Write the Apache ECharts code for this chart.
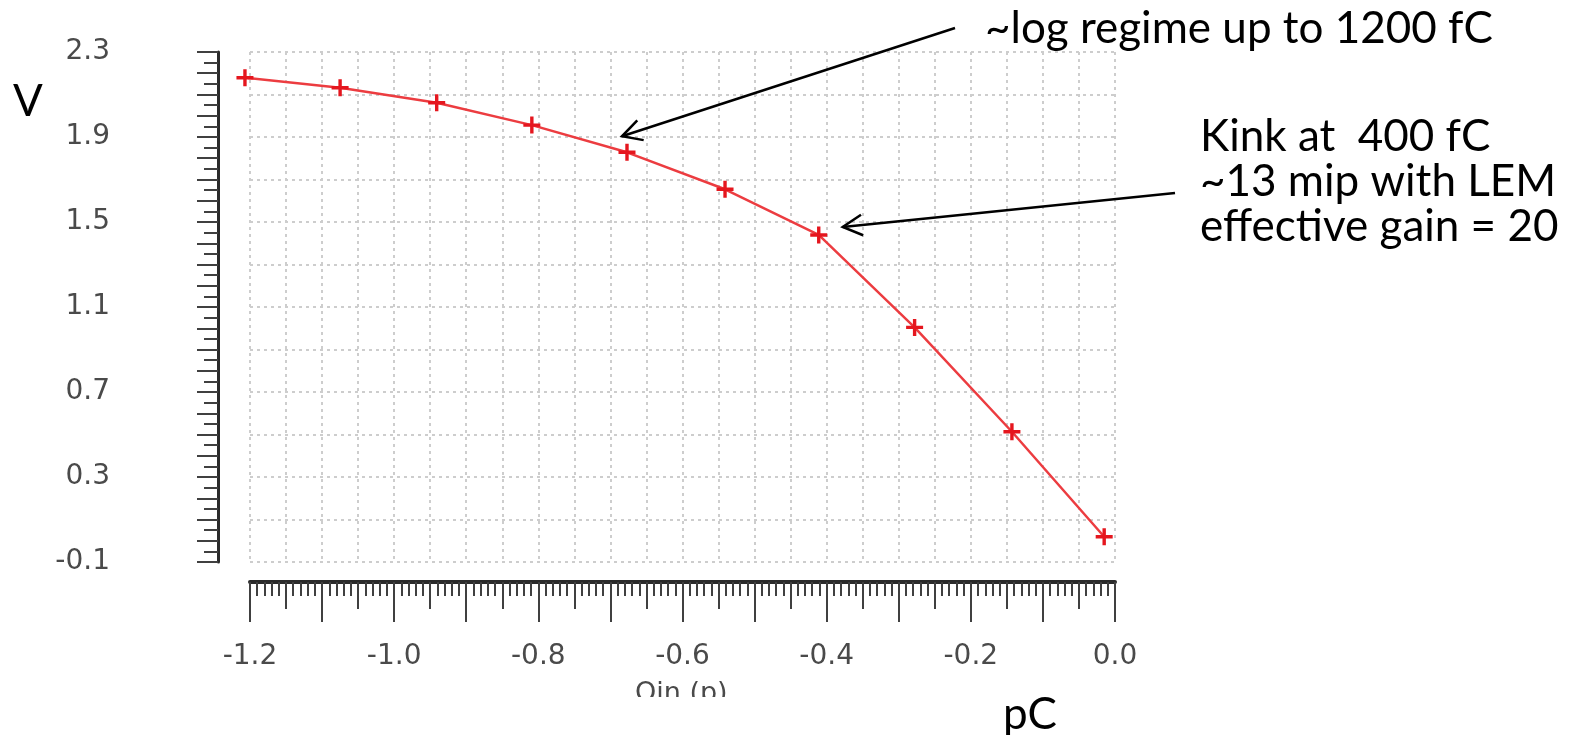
<!DOCTYPE html>
<html>
<head>
<meta charset="utf-8">
<script src="https://cdn.jsdelivr.net/npm/echarts@6/dist/echarts.min.js"></script>
<style>
  html, body { margin: 0; padding: 0; background: #ffffff; }
  #chart { width: 1570px; height: 735px; }
</style>
</head>
<body>
<div id="chart"></div>
<script>
// Input charge (pC) and output voltage (V) of the simulated front end
const qin  = [-1.207, -1.075, -0.941, -0.809, -0.677, -0.541, -0.411, -0.278, -0.143, -0.015];
const vout = [ 2.179,  2.132,  2.061,  1.956,  1.828,  1.654,  1.439,  1.004,  0.513,  0.019];

// Tick labels shown on the axes
const xTickLabels = ['-1.2', '-1.0', '-0.8', '-0.6', '-0.4', '-0.2', '0.0'];
const yTickLabels = ['-0.1', '0.3', '0.7', '1.1', '1.5', '1.9', '2.3'];

// Axis titles and notes
const xAxisTitle = 'Qin (p)';
const xUnit = 'pC';
const yUnit = 'V';
const noteLog = '~log regime up to 1200 fC';
const noteKink = ['Kink at  400 fC', '~13 mip with LEM', 'effective gain = 20'];

const chart = echarts.init(document.getElementById('chart'), null, { renderer: 'canvas' });

const fmt = v => (Math.abs(v) < 1e-9 ? 0 : v).toFixed(1);
const tickFont = { fontFamily: 'DejaVu Sans', fontSize: 28, color: '#4a4a4a' };
const noteFont = 'Lato';
const gridLine = { show: true, lineStyle: { color: '#cdcdcd', type: [3, 4], width: 2 } };
const tickLine = { color: '#404040', width: 2 };

// Plus-shaped marker
const plusPath = 'path://M4,0 H6 V4 H10 V6 H6 V10 H4 V6 H0 V4 H4 Z';

chart.setOption({
  animation: false,
  backgroundColor: '#ffffff',
  grid: { left: 250, right: 455, top: 52, bottom: 173 },
  xAxis: [
    {
      type: 'value', min: -1.2, max: 0, interval: 0.1, position: 'bottom', offset: 20,
      axisLine: { show: true, onZero: false, lineStyle: { color: '#2b2b2b', width: 4 } },
      axisTick: { show: true, length: 40, lineStyle: tickLine },
      minorTick: { show: true, splitNumber: 10, length: 14, lineStyle: { color: '#404040', width: 2 } },
      axisLabel: Object.assign({ margin: 61, formatter: v => xTickLabels.includes(fmt(v)) ? fmt(v) : '' }, tickFont),
      splitLine: { show: false }
    },
    {
      type: 'value', min: -1.2, max: 0, interval: 0.05, position: 'bottom', offset: 20,
      axisLine: { show: false, onZero: false },
      axisTick: { show: true, length: 27, lineStyle: tickLine },
      axisLabel: { show: false },
      splitLine: gridLine
    }
  ],
  yAxis: [
    {
      type: 'value', min: -0.1, max: 2.3, interval: 0.2, position: 'left', offset: 32,
      axisLine: { show: true, onZero: false, lineStyle: { color: '#2b2b2b', width: 3 } },
      axisTick: { show: false },
      axisLabel: Object.assign({ margin: 108, formatter: v => yTickLabels.includes(fmt(v)) ? fmt(v) : '' }, tickFont),
      splitLine: gridLine
    },
    {
      type: 'value', min: -0.1, max: 2.3, interval: 0.1, position: 'left', offset: 32,
      axisLine: { show: false, onZero: false },
      axisTick: { show: true, length: 21, lineStyle: tickLine },
      minorTick: { show: true, splitNumber: 2, length: 14, lineStyle: tickLine },
      axisLabel: { show: false },
      splitLine: { show: false }
    }
  ],
  series: [{
    type: 'line',
    xAxisIndex: 0, yAxisIndex: 0,
    data: qin.map((q, i) => [q, vout[i]]),
    clip: false,
    symbol: plusPath,
    symbolSize: 17,
    itemStyle: { color: '#e5161e' },
    lineStyle: { color: '#ec3c40', width: 2.5 },
    z: 5
  }]
});

// Notes, unit labels and arrows
function textEl(text, x, y, size) {
  return {
    type: 'text', x: x, y: y, z: 20,
    style: {
      text: text, fill: '#000', font: size + 'px ' + noteFont,
      textAlign: 'left', textVerticalAlign: 'middle', align: 'left', verticalAlign: 'middle'
    }
  };
}

function arrow(tail, tip) {
  const dx = tail[0] - tip[0], dy = tail[1] - tip[1];
  const ang = Math.atan2(dy, dx), len = 22, spread = 28 * Math.PI / 180;
  const a1 = [tip[0] + len * Math.cos(ang - spread), tip[1] + len * Math.sin(ang - spread)];
  const a2 = [tip[0] + len * Math.cos(ang + spread), tip[1] + len * Math.sin(ang + spread)];
  return [
    { type: 'line', z: 20, shape: { x1: tail[0], y1: tail[1], x2: tip[0], y2: tip[1] }, style: { stroke: '#000', lineWidth: 2.5 } },
    { type: 'polyline', z: 20, shape: { points: [a1, tip, a2] }, style: { stroke: '#000', lineWidth: 2.5, fill: null } }
  ];
}

const p5 = chart.convertToPixel({ seriesIndex: 0 }, [qin[4], vout[4]]);
const p7 = chart.convertToPixel({ seriesIndex: 0 }, [qin[6], vout[6]]);

const elements = [
  textEl(noteLog, 985, 29, 44),
  textEl(noteKink[0], 1200, 137, 44),
  textEl(noteKink[1], 1200, 182, 44),
  textEl(noteKink[2], 1200, 227, 44),
  textEl(yUnit, 13, 102, 44),
  textEl(xUnit, 1003, 715, 44),
  // axis title partly hidden below the plot frame
  {
    type: 'text', x: 635, y: 680, z: 18,
    style: { text: xAxisTitle, fill: '#4a4a4a', font: '27px DejaVu Sans', textAlign: 'left', textVerticalAlign: 'top', align: 'left', verticalAlign: 'top' }
  },
  { type: 'rect', z: 19, shape: { x: 600, y: 697, width: 180, height: 40 }, style: { fill: '#ffffff' } }
].concat(
  arrow([955, 28], [p5[0] - 5, p5[1] - 16]),
  arrow([1175, 193], [p7[0] + 24, p7[1] - 8])
);

chart.setOption({ graphic: { elements: elements } });
</script>
</body>
</html>
